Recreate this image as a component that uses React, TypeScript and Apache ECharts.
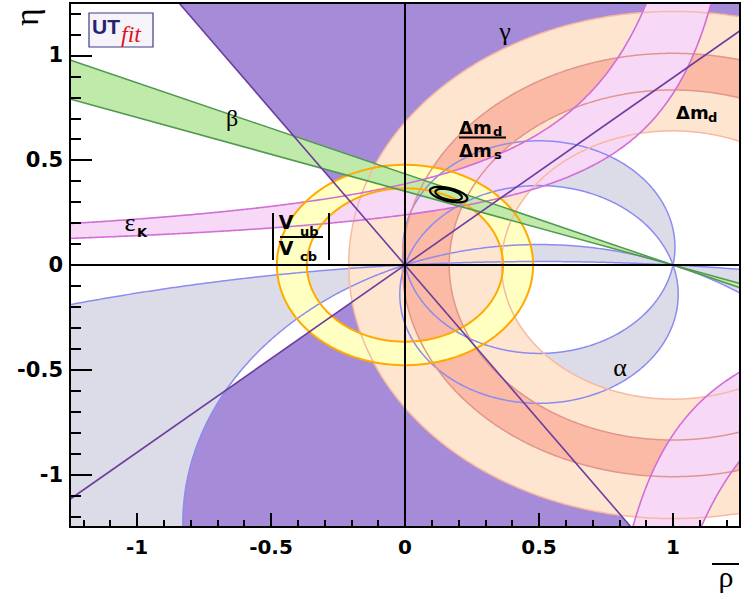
import React, { useEffect, useRef } from 'react';
import * as echarts from 'echarts';

type P = [number, number];

// ---------- axes ----------
const AXIS_MIN = -1.25;
const AXIS_MAX = 1.25;
const majorTicks = [-1, -0.5, 0, 0.5, 1];
const minorTicks = [-1.2, -1.1, -0.9, -0.8, -0.7, -0.6, -0.4, -0.3, -0.2, -0.1, 0.1, 0.2, 0.3, 0.4, 0.6, 0.7, 0.8, 0.9, 1.1, 1.2];
const tickLabels = ['-1', '-0.5', '0', '0.5', '1'];

// ---------- constraints ----------
// gamma: allowed arg(rho + i eta) (mod 180), degrees
const gammaRange = [41.8, 124.0];
// alpha: allowed apex angle (mod 180), degrees
const alphaRanges = [[80.3, 105.7], [157.9, 176.2]];
// beta: allowed angle at (1,0), degrees
const betaRange = [19.4, 23.5];
// Delta m_d : |1 - rho - i eta| band
const dmdRadii = [0.64, 1.21];
// Delta m_d / Delta m_s : |1 - rho - i eta| band
const dmsRadii = [0.835, 1.01];
// |Vub/Vcb| : |rho + i eta| band
const vubRadii = [0.366, 0.478];
// eps_K hyperbolas eta = k / (a - rho)   [a, k]
const epsKUpper = [[1.305, 0.505], [1.413, 0.338]];
const epsKLower = [[0.574, 0.345], [0.678, 0.534]];
// fit result: centre and conjugate half-axes of the two contours
const fitCenter = [0.163, 0.336];
const contourAxes = [
  [[0.0696, -0.0215], [0.0057, 0.0301]],
  [[0.0489, -0.0151], [0.0044, 0.0232]],
];

// ---------- geometry helpers ----------
const D = Math.PI / 180;
const FAR = 6;

function arcPts(cx: number, cy: number, r: number, a0: number, a1: number): P[] {
  const n = Math.max(200, Math.ceil((Math.abs(a1 - a0) * r) / 0.006));
  const out: P[] = [];
  for (let i = 0; i <= n; i++) {
    const t = a0 + ((a1 - a0) * i) / n;
    out.push([cx + r * Math.cos(t), cy + r * Math.sin(t)]);
  }
  return out;
}
function alphaCircle(aDeg: number) {
  const a = aDeg * D;
  return { cx: 0.5, cy: 0.5 / Math.tan(a), r: 0.5 / Math.sin(a) };
}
function alphaUpperArc(aDeg: number): P[] {
  const { cx, cy, r } = alphaCircle(aDeg);
  const s = Math.atan2(-cy, 0.5);
  let e = Math.atan2(-cy, -0.5);
  if (e < s) e += 2 * Math.PI;
  return arcPts(cx, cy, r, s, e);
}
function alphaLowerArc(aDeg: number): P[] {
  const { cx, cy, r } = alphaCircle(aDeg);
  const s = Math.atan2(-cy, -0.5);
  let e = Math.atan2(-cy, 0.5);
  if (e < s) e += 2 * Math.PI;
  return arcPts(cx, cy, r, s, e);
}
function ringPoly(cx: number, cy: number, r1: number, r2: number): P[] {
  return [...arcPts(cx, cy, r2, 0, 2 * Math.PI), ...arcPts(cx, cy, r1, 2 * Math.PI, 0)];
}
function wedge(cx: number, cy: number, d1: number, d2: number): P[] {
  return [
    [cx, cy],
    [cx + FAR * Math.cos(d1 * D), cy + FAR * Math.sin(d1 * D)],
    [cx + FAR * Math.cos(d2 * D), cy + FAR * Math.sin(d2 * D)],
  ];
}
function fullLine(cx: number, cy: number, d: number): P[] {
  return [
    [cx - FAR * Math.cos(d * D), cy - FAR * Math.sin(d * D)],
    [cx + FAR * Math.cos(d * D), cy + FAR * Math.sin(d * D)],
  ];
}
function hyperUpper(a: number, k: number): P[] {
  const end = a - k / 1.6;
  const out: P[] = [];
  const n = 400;
  for (let i = 0; i <= n; i++) {
    const x = -1.35 + ((end + 1.35) * i) / n;
    out.push([x, k / (a - x)]);
  }
  return out;
}
function hyperLower(a: number, k: number): P[] {
  const start = a + k / 1.6;
  const out: P[] = [];
  const n = 400;
  for (let i = 0; i <= n; i++) {
    const x = start + ((1.35 - start) * i) / n;
    out.push([x, -k / (x - a)]);
  }
  return out;
}
function ellipse(c: number[], u: number[], v: number[]): P[] {
  const out: P[] = [];
  for (let i = 0; i <= 120; i++) {
    const t = (i / 120) * 2 * Math.PI;
    out.push([c[0] + Math.cos(t) * u[0] + Math.sin(t) * v[0], c[1] + Math.cos(t) * u[1] + Math.sin(t) * v[1]]);
  }
  return out;
}

// ---------- clipping ----------
function inter(a: P, b: P, ax: number, v: number): P {
  const t = (v - a[ax]) / (b[ax] - a[ax]);
  return [a[0] + t * (b[0] - a[0]), a[1] + t * (b[1] - a[1])];
}
function clipPoly(poly: P[]): P[] {
  const planes: [number, number, number][] = [
    [0, AXIS_MIN, 1], [0, AXIS_MAX, -1], [1, AXIS_MIN, 1], [1, AXIS_MAX, -1],
  ];
  let out = poly;
  for (const [ax, v, s] of planes) {
    const inp = out;
    out = [];
    if (!inp.length) break;
    const ins = (p: P) => s * (p[ax] - v) >= 0;
    for (let i = 0; i < inp.length; i++) {
      const cur = inp[i];
      const prev = inp[(i + inp.length - 1) % inp.length];
      const ci = ins(cur);
      const pi = ins(prev);
      if (ci) {
        if (!pi) out.push(inter(prev, cur, ax, v));
        out.push(cur);
      } else if (pi) out.push(inter(prev, cur, ax, v));
    }
  }
  return out;
}
function lb(a: P, b: P): [P, P, boolean, boolean] | null {
  let t0 = 0, t1 = 1;
  const dx = b[0] - a[0], dy = b[1] - a[1];
  const p = [-dx, dx, -dy, dy];
  const q = [a[0] - AXIS_MIN, AXIS_MAX - a[0], a[1] - AXIS_MIN, AXIS_MAX - a[1]];
  for (let i = 0; i < 4; i++) {
    if (p[i] === 0) {
      if (q[i] < 0) return null;
    } else {
      const r = q[i] / p[i];
      if (p[i] < 0) { if (r > t1) return null; if (r > t0) t0 = r; }
      else { if (r < t0) return null; if (r < t1) t1 = r; }
    }
  }
  return [[a[0] + t0 * dx, a[1] + t0 * dy], [a[0] + t1 * dx, a[1] + t1 * dy], t0 > 0, t1 < 1];
}
function clipLine(pts: P[]): P[][] {
  const runs: P[][] = [];
  let cur: P[] | null = null;
  for (let i = 0; i < pts.length - 1; i++) {
    const seg = lb(pts[i], pts[i + 1]);
    if (!seg) { cur = null; continue; }
    const [a, b, cs, ce] = seg;
    if (!cur || cs) { cur = [a]; runs.push(cur); }
    cur.push(b);
    if (ce) cur = null;
  }
  return runs.filter((r) => r.length > 1);
}

// ---------- series builders ----------
function fillSeries(polys: P[][], color: string, z: number) {
  const clipped = polys.map(clipPoly).filter((p) => p.length > 2);
  return {
    type: 'custom', coordinateSystem: 'cartesian2d', xAxisIndex: 0, yAxisIndex: 0,
    silent: true, z, animation: false,
    data: clipped.map(() => [0, 0]),
    renderItem: (params: any, api: any) => ({
      type: 'polygon',
      shape: { points: clipped[params.dataIndex].map((p) => api.coord(p)) },
      style: { fill: color, stroke: 'none' },
    }),
  };
}
function lineSeries(lines: P[][], color: string, width: number, z: number) {
  const runs = lines.flatMap(clipLine);
  return {
    type: 'custom', coordinateSystem: 'cartesian2d', xAxisIndex: 0, yAxisIndex: 0,
    silent: true, z, animation: false,
    data: runs.map(() => [0, 0]),
    renderItem: (params: any, api: any) => ({
      type: 'polyline',
      shape: { points: runs[params.dataIndex].map((p) => api.coord(p)) },
      style: { stroke: color, lineWidth: width, fill: 'none' },
    }),
  };
}

function buildOption() {
  // regions
  const gammaPolys = [
    wedge(0, 0, gammaRange[0], gammaRange[1]),
    wedge(0, 0, gammaRange[0] + 180, gammaRange[1] + 180),
  ];
  const alphaPolys: P[][] = [];
  alphaRanges.forEach(([a1, a2]) => {
    alphaPolys.push([...alphaUpperArc(a1), ...alphaUpperArc(a2).reverse()]);
    alphaPolys.push([...alphaLowerArc(a1), ...alphaLowerArc(a2).reverse()]);
  });
  const alphaCircles = alphaRanges.flat().map((a) => {
    const { cx, cy, r } = alphaCircle(a);
    return arcPts(cx, cy, r, 0, 2 * Math.PI);
  });
  const betaPolys = [
    wedge(1, 0, 180 - betaRange[0], 180 - betaRange[1]),
    wedge(1, 0, -betaRange[0], -betaRange[1]),
  ];
  const betaLines = betaRange.map((b) => fullLine(1, 0, 180 - b));
  const dmdPoly = ringPoly(1, 0, dmdRadii[0], dmdRadii[1]);
  const dmdCircles = dmdRadii.map((r) => arcPts(1, 0, r, 0, 2 * Math.PI));
  const dmsPoly = ringPoly(1, 0, dmsRadii[0], dmsRadii[1]);
  const dmsCircles = dmsRadii.map((r) => arcPts(1, 0, r, 0, 2 * Math.PI));
  const vubPoly = ringPoly(0, 0, vubRadii[0], vubRadii[1]);
  const vubCircles = vubRadii.map((r) => arcPts(0, 0, r, 0, 2 * Math.PI));
  const epsU = epsKUpper.map(([a, k]) => hyperUpper(a, k));
  const epsL = epsKLower.map(([a, k]) => hyperLower(a, k));
  const epsPolys = [
    [...epsU[0], ...epsU[1].slice().reverse()],
    [...epsL[0], ...epsL[1].slice().reverse()],
  ];
  const gammaLines = gammaRange.map((g) => fullLine(0, 0, g));
  const contours = contourAxes.map(([u, v]) => ellipse(fitCenter, u, v));
  const zeroLines: P[][] = [
    [[AXIS_MIN, 0], [AXIS_MAX, 0]],
    [[0, AXIS_MIN], [0, AXIS_MAX]],
  ];

  const C = {
    gamma: '#a68bd8', gammaLine: '#6c3d9e',
    alpha: '#dcdce8', alphaLine: '#8c8cf0',
    dmd: '#fee5cf', dmdLine: '#f8b8a2',
    dms: '#fbbaa5', dmsLine: '#e0968c',
    eps: '#f7d9f7', epsLine: '#d26ed8',
    vub: '#ffffc2', vubLine: '#ffaa00',
    beta: '#c0eaa9', betaLine: '#4f9a4f',
  };

  const series = [
    fillSeries(gammaPolys, C.gamma, 2),
    fillSeries(alphaPolys, C.alpha, 2),
    fillSeries([dmdPoly], C.dmd, 2),
    fillSeries([dmsPoly], C.dms, 2),
    fillSeries(epsPolys, C.eps, 2),
    fillSeries([vubPoly], C.vub, 2),
    fillSeries(betaPolys, C.beta, 2),
    lineSeries(alphaCircles, C.alphaLine, 1.5, 3),
    lineSeries(dmdCircles, C.dmdLine, 1.5, 3),
    lineSeries(dmsCircles, C.dmsLine, 1.5, 3),
    lineSeries([...epsU, ...epsL], C.epsLine, 1.6, 3),
    lineSeries(vubCircles, C.vubLine, 2, 3),
    lineSeries(betaLines, C.betaLine, 1.5, 3),
    lineSeries(gammaLines, C.gammaLine, 1.6, 4),
    lineSeries(zeroLines, '#000', 2, 5),
    lineSeries(contours, '#000', 2.2, 6),
  ];

  const bold = 'DejaVu Sans';
  const sans = 'Liberation Sans';
  const serif = 'Liberation Serif';
  const txt = (text: string, x: number, y: number, font: string, align = 'center', extra: any = {}) => ({
    type: 'text', x, y, z: 100, silent: true, ...extra,
    style: { text, font, fill: extra.fill || '#000', align, verticalAlign: 'middle' },
  });
  const ln = (x1: number, y1: number, x2: number, y2: number, w = 2) => ({
    type: 'line', z: 100, silent: true,
    shape: { x1, y1, x2, y2 }, style: { stroke: '#000', lineWidth: w },
  });

  const graphic = [
    // UTfit logo
    {
      type: 'rect', z: 100, silent: true,
      shape: { x: 89, y: 13, width: 64, height: 34 },
      style: { fill: '#f6f4fa', stroke: '#3c3c86', lineWidth: 1.2 },
    },
    txt('UT', 92, 26, `bold 21px ${sans}`, 'left', { fill: '#232370' }),
    txt('fit', 121, 34, `italic 24px ${serif}`, 'left', { fill: '#e0141c' }),
    // constraint labels
    txt('γ', 505, 31, `26px ${serif}`),
    txt('β', 232, 118, `24px ${serif}`),
    txt('α', 620, 367, `26px ${serif}`),
    txt('ε', 130, 222, `26px ${serif}`),
    txt('K', 142, 232, `bold 13px ${bold}`),
    txt('Δm', 676, 112, `bold 18px ${bold}`, 'left'),
    txt('d', 708, 117, `bold 13px ${bold}`, 'left'),
    txt('Δm', 459, 127, `bold 18px ${bold}`, 'left'),
    txt('d', 493, 131, `bold 13px ${bold}`, 'left'),
    ln(459, 137.5, 506, 137.5),
    txt('Δm', 459, 150, `bold 18px ${bold}`, 'left'),
    txt('s', 494, 154, `bold 13px ${bold}`, 'left'),
    // |Vub / Vcb|
    ln(273, 213, 273, 260),
    ln(329, 213, 329, 260),
    txt('V', 286, 222, `bold 19px ${bold}`),
    txt('ub', 300, 231, `bold 13px ${bold}`, 'left'),
    ln(280, 237, 323, 237),
    txt('V', 286, 248, `bold 19px ${bold}`),
    txt('cb', 300, 256, `bold 13px ${bold}`, 'left'),
    // axis titles
    txt('ρ', 726, 576, `30px ${serif}`),
    ln(712, 564, 739, 564),
    txt('η', 26, 17, `34px ${serif}`, 'center', { rotation: Math.PI / 2 }),
  ];

  const tickStyle = { color: '#000', width: 2 };
  const fmt = (v: number) => tickLabels[majorTicks.indexOf(v)] ?? String(v);
  const baseAxis = {
    type: 'value', min: AXIS_MIN, max: AXIS_MAX,
    splitLine: { show: false }, axisLine: { show: false, onZero: false }, z: 10,
  };

  return {
    animation: false,
    backgroundColor: '#ffffff',
    grid: { left: 70, right: 1, top: 3, bottom: 70, show: true, borderColor: '#000', borderWidth: 2, backgroundColor: 'transparent', z: 10 },
    xAxis: [
      {
        ...baseAxis, position: 'bottom',
        axisTick: { show: true, inside: true, length: 14, customValues: majorTicks, lineStyle: tickStyle },
        axisLabel: { show: true, customValues: majorTicks, formatter: fmt, margin: 10, color: '#000', fontFamily: bold, fontWeight: 'bold', fontSize: 20 },
      },
      {
        ...baseAxis, position: 'bottom',
        axisTick: { show: true, inside: true, length: 7, customValues: minorTicks, lineStyle: tickStyle },
        axisLabel: { show: false },
      },
    ],
    yAxis: [
      {
        ...baseAxis, position: 'left',
        axisTick: { show: true, inside: true, length: 22, customValues: majorTicks, lineStyle: tickStyle },
        axisLabel: { show: true, customValues: majorTicks, formatter: fmt, margin: 7, color: '#000', fontFamily: bold, fontWeight: 'bold', fontSize: 21 },
      },
      {
        ...baseAxis, position: 'left',
        axisTick: { show: true, inside: true, length: 11, customValues: minorTicks, lineStyle: tickStyle },
        axisLabel: { show: false },
      },
    ],
    series,
    graphic,
  };
}

export default function App() {
  const ref = useRef<HTMLDivElement>(null);
  useEffect(() => {
    if (!ref.current) return;
    const chart = echarts.init(ref.current, undefined, { renderer: 'svg' });
    chart.setOption(buildOption() as any);
    return () => chart.dispose();
  }, []);
  return (
    <div
      ref={ref}
      style={{ position: 'absolute', left: 0, top: 0, width: 741, height: 597, background: '#fff' }}
    />
  );
}
